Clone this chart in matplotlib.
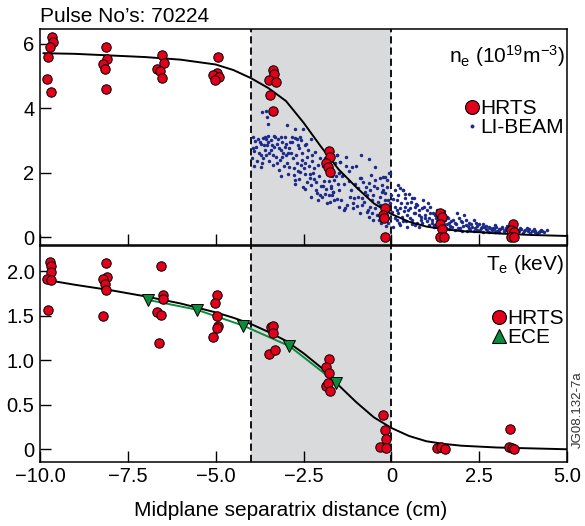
import matplotlib
matplotlib.use('Agg')
import matplotlib.pyplot as plt
from matplotlib.lines import Line2D

plt.rcParams['font.family'] = ['Liberation Sans', 'DejaVu Sans']
plt.rcParams['mathtext.fontset'] = 'custom'
plt.rcParams['mathtext.rm'] = 'Liberation Sans'
plt.rcParams['mathtext.it'] = 'Liberation Sans'

# ---- density panel data ----
ne_hrts_x = [-9.67, -9.64, -9.72, -9.78, -9.81, -9.70,
             -8.12, -8.10, -8.20, -8.16, -8.11,
             -6.53, -6.48, -6.66, -6.58, -6.53,
             -4.94, -4.95, -5.07, -4.92, -5.01,
             -3.36, -3.35, -3.48, -3.28, -3.45, -3.36,
             -1.77, -1.75, -1.86, -1.80, -1.76,
             -0.17, -0.25, -0.21, -0.18,
             1.37, 1.43, 1.37, 1.43, 1.38, 1.50,
             3.45, 3.40, 3.48, 3.40, 3.50]
ne_hrts_y = [6.21, 6.06, 5.90, 5.57, 4.89, 4.51,
             5.88, 5.51, 5.38, 5.20, 4.58,
             5.64, 5.41, 5.22, 5.16, 4.93,
             5.57, 5.10, 5.02, 4.97, 4.87,
             5.18, 5.06, 4.87, 4.82, 4.41, 3.91,
             2.68, 2.50, 2.29, 2.19, 2.03,
             0.90, 0.69, 0.59, 0.00,
             0.76, 0.62, 0.41, 0.25, 0.00, 0.00,
             0.40, 0.23, 0.15, 0.00, 0.00]

ne_fit_x = [-9.9, -9, -8, -7, -6, -5, -4.5, -4, -3.5, -3, -2.5, -2, -1.5,
            -1, -0.5, 0, 0.5, 1, 1.5, 2, 3, 4, 5]
ne_fit_y = [5.70, 5.68, 5.63, 5.58, 5.50, 5.35, 5.18, 4.93, 4.62, 4.22, 3.55,
            2.80, 2.10, 1.55, 1.05, 0.72, 0.48, 0.33, 0.25, 0.19, 0.12, 0.07, 0.04]

libeam_x = [-3.95, -3.90, -3.87, -3.82, -3.80, -3.75, -3.72, -3.70, -3.68, -3.65,
            -3.65, -3.60, -3.61, -3.58, -3.56, -3.55, -3.53, -3.52, -3.52,
            -3.48, -3.44, -3.42, -3.38, -3.35, -3.30, -3.28, -3.22, -3.20, -3.18,
            -3.15, -3.13, -3.13, -3.10, -3.05, -3.04, -3.02, -3.00, -3.45, -3.30,
            -2.96, -2.95, -2.90, -2.89, -2.84, -2.82, -2.80, -2.77, -2.75, -2.75,
            -2.75, -2.73, -2.70, -2.69, -2.65, -2.62, -2.61, -2.59, -2.56, -2.55,
            -2.51, -2.51, -2.50,
            -2.47, -2.45, -2.42, -2.40, -2.39, -2.35, -2.33, -2.30, -2.28, -2.25,
            -2.22, -2.20, -2.18, -2.15, -2.11, -2.09, -2.05, -2.02, -2.00,
            -1.98, -1.95, -1.92, -1.88, -1.85, -1.80, -1.77, -1.75, -1.73, -1.70,
            -1.68, -1.66, -1.62, -1.60, -1.56, -1.55, -1.52, -1.50, -1.48, -1.46,
            -1.56, -1.29, -0.87, -0.65, -1.46, -1.00, -1.13, -0.46, -1.48, -1.37,
            -0.59, -0.18, -0.06, -0.87,
            -1.41, -0.89, -0.80, -0.63, -0.46, -0.32, -0.23, -0.13, -0.27, -0.42,
            -0.23, -0.61, -0.75, -0.94, -1.18, -1.06, -0.84, -0.70, -0.51, -0.32,
            -0.18, -0.09, -1.32, -1.08, -0.99, -0.84, -0.61, -0.46, -0.32, -0.18,
            -0.04, -0.70, -0.56, -0.42, -0.65, -0.51, 0.01, -0.04, -0.09, -1.71,
            -1.65, -1.70,
            0.11, 0.25, 0.32, 0.15, 0.39, 0.58, 0.11, 0.25, 0.39, 0.53,
            0.20, 0.30, 0.44, 0.63, 0.15, 0.34, 0.53, 0.25, 0.06, 0.44, 0.58,
            0.64, 0.73, 0.78, 0.68, 0.92, 1.02, 0.83, 0.97, 1.11, 1.16,
            0.87, 1.06, 1.21, 0.68, 0.78, 1.54, 1.63, 1.73, 1.59, 1.87,
            1.92, 2.01, 2.11, 2.20, 2.30, 2.06, 2.34, 2.44, 2.53, 2.58,
            2.68, 2.77, 2.87, 2.96, 3.06, 3.15, 3.25, 3.34, 1.82, 1.96,
            2.25, 2.44, 3.06, 2.77,
            1.30, 1.40, 1.45, 1.25, 1.70, 1.80, 2.20, 2.40, 2.60, 2.70,
            2.90, 3.00, 1.10, 1.30, 1.50, 1.05, 0.90, 0.50, 0.45, 0.70,
            0.85, 1.00, 1.15, 1.35, 1.55, 1.65, 2.00, 2.15, 2.35, 2.60, 2.95,
            3.15, 3.25, 3.35, 3.50, 3.60, 3.70, 3.80, 3.90, 4.00, 4.10,
            4.20, 4.30, 4.42, 3.20, 3.40, 3.55, 3.75, 3.95, 4.15, 3.30,
            3.45, 3.65, 3.85, 4.05, 4.25, -0.05, 0.20, 0.34,
            -3.97, -3.93, -3.85, -3.78, -3.68, -3.62, -3.58, -3.47, -3.40, -3.36,
            -3.33, -3.25, -3.20, -3.12, -3.08, -3.00, -3.90, -3.72, -3.50, -3.26,
            -2.98, -2.92, -2.86, -2.78, -2.72, -2.66, -2.58, -2.53, -2.46, -2.38,
            -2.32, -2.26, -2.20, -2.14, -2.08, -2.04, -2.95, -2.63, -2.45, -2.30,
            -1.96, -1.90, -1.84, -1.78, -1.72, -1.64, -1.58, -1.50, -1.42, -1.36,
            -1.30, -1.25, -1.20, -1.15, -1.10, -1.04, -1.35, -1.22,
            -0.96, -0.90, -0.78, -0.72, -0.66, -0.55, -0.50, -0.38, -0.35, -0.28,
            -0.20, -0.12, -0.08, -0.02, -0.30, -0.15,
            0.05, 0.10, 0.18, 0.22, 0.28, 0.36, 0.42, 0.48, 0.55, 0.60,
            0.66, 0.72, 0.80, 0.88, 0.95, 0.40, 0.15,
            1.08, 1.18, 1.22, 1.28, 1.35, 1.42, 1.48, 1.58, 1.62, 1.68,
            1.75, 1.85, 1.90, 1.97,
            2.05, 2.12, 2.18, 2.28, 2.38, 2.48, 2.55, 2.65, 2.72, 2.82,
            2.92, 2.98,
            3.10, 3.22, 3.38, 3.48, 3.62, 3.78, 3.92, 4.08, 4.22, 4.35]
libeam_y = [2.75, 2.68, 2.99, 2.35, 3.05, 2.96, 2.55, 2.19, 3.88, 2.45,
            3.07, 3.12, 2.69, 3.90, 3.04, 2.85, 3.73, 2.96, 3.51,
            2.62, 2.69, 3.00, 2.25, 2.80, 3.10, 2.50, 3.03, 2.08, 2.39,
            2.70, 3.09, 1.90, 2.95, 2.20, 2.80, 3.10, 2.55, 3.85, 3.90,
            3.48, 2.60, 2.19, 2.95, 3.10, 2.96, 2.45, 1.93, 3.34, 1.77,
            1.65, 3.06, 2.30, 3.03, 2.05, 2.75, 2.03, 3.10, 3.01, 2.40,
            3.34, 1.55, 2.15,
            2.85, 1.95, 2.90, 2.50, 1.72, 2.20, 1.85, 3.05, 1.62, 2.35,
            2.00, 1.80, 2.65, 1.45, 1.38, 1.15, 1.90, 2.45, 1.60,
            1.25, 2.20, 1.75, 1.35, 1.50, 2.05, 1.30, 1.10, 1.59, 1.90,
            1.95, 1.40, 1.78, 2.30, 2.55, 1.20, 1.65, 0.95, 2.00, 2.34,
            2.55, 2.50, 2.55, 2.41, 2.34, 2.21, 2.17, 2.19, 2.00, 1.93,
            1.93, 1.88, 1.98, 1.83,
            1.91, 1.83, 1.72, 1.67, 1.77, 1.83, 1.88, 1.77, 1.62, 1.52,
            1.46, 1.46, 1.41, 1.52, 1.26, 1.21, 1.21, 1.31, 1.31, 1.26,
            1.36, 1.16, 0.90, 0.90, 0.98, 1.00, 0.95, 0.90, 1.00, 1.16,
            1.05, 0.79, 0.74, 0.69, 0.64, 0.54, 0.79, 0.59, 0.43, 1.54,
            1.41, 1.31,
            1.46, 1.52, 1.46, 1.16, 1.21, 1.21, 0.95, 0.90, 0.95, 0.90,
            0.74, 0.64, 0.69, 0.74, 0.54, 0.49, 0.59, 0.38, 0.33, 0.33, 0.40,
            1.21, 1.00, 0.85, 0.74, 0.95, 0.85, 0.64, 0.69, 0.74, 0.54,
            0.43, 0.38, 0.33, 0.38, 0.33, 0.54, 0.43, 0.33, 0.64, 0.74,
            0.59, 0.48, 0.38, 0.45, 0.33, 0.69, 0.54, 0.35, 0.23, 0.33,
            0.25, 0.33, 0.23, 0.38, 0.25, 0.33, 0.23, 0.28, 0.23, 0.28,
            0.23, 0.23, 0.17, 0.17,
            0.50, 0.62, 0.35, 0.70, 0.50, 0.45, 0.28, 0.45, 0.40, 0.35,
            0.30, 0.20, 0.95, 0.85, 0.80, 1.05, 1.15, 1.35, 1.05, 1.02,
            0.55, 0.50, 0.45, 0.28, 0.30, 0.25, 0.20, 0.20, 0.18, 0.15, 0.15,
            0.30, 0.28, 0.28, 0.33, 0.22, 0.27, 0.22, 0.20, 0.18, 0.20,
            0.15, 0.18, 0.22, 0.18, 0.16, 0.15, 0.12, 0.12, 0.12, 0.36,
            0.25, 0.30, 0.28, 0.25, 0.24, 1.98, 1.62, 1.46,
            2.45, 3.10, 2.80, 2.62, 2.30, 2.85, 2.55, 2.35, 2.85, 2.55,
            3.15, 2.30, 2.75, 2.50, 2.62, 2.90, 2.20, 2.90, 3.15, 2.90,
            2.30, 2.75, 2.60, 2.15, 2.55, 2.85, 2.25, 2.60, 2.30, 2.70,
            1.95, 2.55, 2.15, 1.70, 2.25, 1.30, 1.95, 1.80, 1.50, 1.25,
            1.60, 2.45, 1.05, 1.75, 2.20, 1.15, 1.90, 1.45, 1.15, 1.65,
            2.20, 1.00, 1.75, 1.45, 1.05, 1.65, 0.85, 2.05,
            1.25, 0.75, 1.10, 1.55, 0.85, 1.15, 1.60, 1.10, 0.55, 1.40,
            0.75, 1.55, 0.90, 1.30, 0.45, 0.35,
            1.20, 0.60, 1.30, 0.45, 1.05, 0.80, 0.50, 0.85, 1.10, 0.55,
            0.95, 0.45, 0.70, 0.90, 0.60, 1.35, 0.85,
            0.60, 0.75, 0.38, 0.60, 0.45, 0.75, 0.52, 0.42, 0.60, 0.35,
            0.55, 0.40, 0.30, 0.50,
            0.35, 0.52, 0.35, 0.42, 0.30, 0.40, 0.30, 0.32, 0.22, 0.30,
            0.26, 0.32,
            0.25, 0.22, 0.22, 0.20, 0.18, 0.18, 0.25, 0.16, 0.20, 0.15]

# ---- temperature panel data ----
te_hrts_x = [-9.72, -9.70, -9.69, -9.81, -9.69, -9.76,
             -8.12, -8.08, -8.22, -8.14, -8.11, -8.22,
             -6.56, -6.49, -6.51, -6.66, -6.55, -6.62,
             -4.95, -5.01, -4.97, -4.93, -4.97, -5.07,
             -3.44, -3.36, -3.37, -3.48, -3.31,
             -1.77, -1.85, -1.77, -1.86, -1.80, -1.74,
             -0.25, -0.19, -0.15, -0.31, -0.15,
             1.30, 1.40, 1.52,
             3.38, 3.34, 3.44, 3.50]
te_hrts_y = [2.11, 2.06, 1.99, 1.91, 1.90, 1.57,
             2.09, 1.94, 1.91, 1.86, 1.79, 1.50,
             2.06, 1.73, 1.69, 1.54, 1.51, 1.19,
             1.74, 1.65, 1.50, 1.39, 1.36, 1.26,
             1.37, 1.39, 1.31, 1.07, 1.12,
             1.01, 0.92, 0.86, 0.71, 0.75, 0.65,
             0.38, 0.22, 0.12, 0.02, 0.01,
             0.01, 0.02, 0.00,
             0.23, 0.02, 0.01, 0.00]

te_fit_x = [-9.75, -9, -8, -7, -6, -5, -4.5, -4, -3.5, -3, -2.5, -2, -1.5,
            -1, -0.5, 0, 0.5, 1, 1.5, 2, 3, 4, 5]
te_fit_y = [1.90, 1.85, 1.79, 1.72, 1.64, 1.54, 1.48, 1.41, 1.32, 1.22, 1.08,
            0.92, 0.72, 0.53, 0.36, 0.24, 0.15, 0.09, 0.06, 0.04, 0.02, 0.01, 0.0]

ece_x = [-6.92, -5.54, -4.21, -2.90, -1.57]
ece_y = [1.68, 1.57, 1.39, 1.16, 0.75]

x_ticks = [-10, -7.5, -5, -2.5, 0, 2.5, 5]
x_tick_labels = ['\u221210.0', '\u22127.5', '\u22125.0', '\u22122.5', '0', '2.5', '5.0']
ne_ticks = [0, 2, 4, 6]
te_ticks = [0, 0.5, 1.0, 1.5, 2.0]
te_tick_labels = ['0', '0.5', '1.0', '1.5', '2.0']

shade_lo, shade_hi = -4, 0

RED = '#e2001a'
NAVY = '#1c2a8c'
GREEN = '#0a8c3c'
GREY = '#d9dadc'
FS = 15

fig = plt.figure(figsize=(5.85, 5.26), dpi=100)
ax1 = fig.add_axes([0.0684, 0.5342, 0.9009, 0.4107])
ax2 = fig.add_axes([0.0684, 0.1222, 0.9009, 0.4107])

for ax in (ax1, ax2):
    ax.axvspan(shade_lo, shade_hi, color=GREY, lw=0, zorder=0)
    for xv in (shade_lo, shade_hi):
        ax.axvline(xv, color='black', lw=1.3, ls=(0, (4, 2.2)), zorder=1)
    ax.set_xlim(-10, 5)
    ax.set_xticks(x_ticks)
    ax.tick_params(direction='in', length=8, width=1.0, labelsize=14.5,
                   top=False, right=False, pad=4)
    for sp in ax.spines.values():
        sp.set_linewidth(1.1)

# top panel: density
ax1.plot(libeam_x, libeam_y, 'o', color=NAVY, ms=2.5, mew=0, zorder=2)
ax1.plot(ne_fit_x, ne_fit_y, color='black', lw=1.4, zorder=3)
ax1.plot(ne_hrts_x, ne_hrts_y, 'o', color=RED, mec='black', mew=0.7, ms=6.8, zorder=4)
ax1.set_ylim(-0.24, 6.45)
ax1.set_yticks(ne_ticks)
ax1.set_xticklabels([])
ax1.text(0.995, 0.935, r'n$_\mathrm{e}$ (10$^{19}$m$^{-3}$)', transform=ax1.transAxes,
         ha='right', va='top', fontsize=FS)

h1 = [Line2D([], [], ls='none', marker='o', color=RED, mec='black', mew=0.8, ms=10),
      Line2D([], [], ls='none', marker='o', color=NAVY, mew=0, ms=2.8)]
ax1.legend(h1, ['HRTS', 'LI-BEAM'], loc='upper right', bbox_to_anchor=(1.01, 0.713),
           frameon=False, fontsize=FS, handlelength=0.6, handletextpad=0.1,
           labelspacing=0.0, borderaxespad=0)

# bottom panel: temperature
ax2.plot(te_fit_x, te_fit_y, color='black', lw=1.4, zorder=3)
ax2.plot(ece_x, ece_y, '-v', color=GREEN, mec='black', mew=0.7, ms=9, lw=1.4, zorder=4)
ax2.plot(te_hrts_x, te_hrts_y, 'o', color=RED, mec='black', mew=0.7, ms=6.8, zorder=5)
ax2.set_ylim(-0.14, 2.29)
ax2.set_yticks(te_ticks)
ax2.set_yticklabels(te_tick_labels)
ax2.set_xticklabels(x_tick_labels)
ax2.text(0.995, 0.965, r'T$_\mathrm{e}$ (keV)', transform=ax2.transAxes,
         ha='right', va='top', fontsize=FS)

h2 = [Line2D([], [], ls='none', marker='o', color=RED, mec='black', mew=0.8, ms=10),
      Line2D([], [], ls='none', marker='^', color=GREEN, mec='black', mew=0.8, ms=10)]
ax2.legend(h2, ['HRTS', 'ECE'], loc='upper right', bbox_to_anchor=(1.01, 0.745),
           frameon=False, fontsize=FS, handlelength=0.6, handletextpad=0.1,
           labelspacing=0.0, borderaxespad=0)

ax2.set_xlabel('Midplane separatrix distance (cm)', fontsize=FS)
ax2.xaxis.set_label_coords(0.476, -0.183)

fig.text(0.0684, 0.958, "Pulse No\u2019s: 70224", fontsize=FS, ha='left', va='baseline')
fig.text(0.988, 0.2205, 'JG08.132-7a', fontsize=9.5, rotation=90,
         ha='center', va='center', color='#333333')

fig.savefig('out.png', dpi=100)
